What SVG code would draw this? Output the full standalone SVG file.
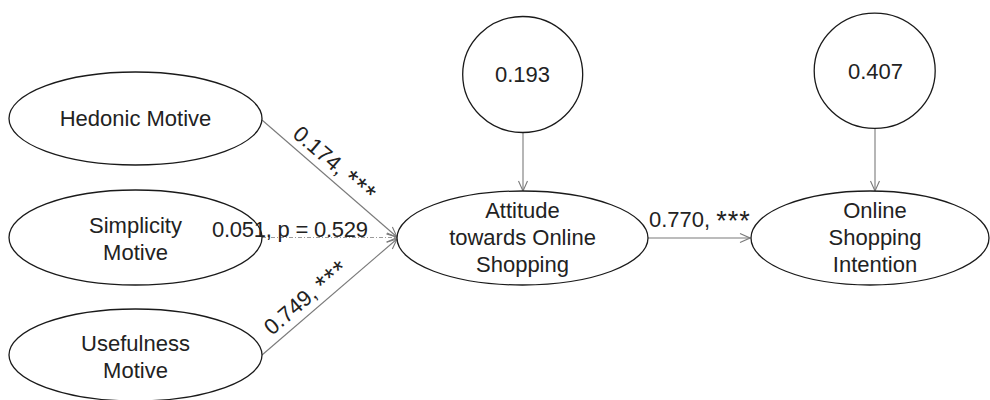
<svg xmlns="http://www.w3.org/2000/svg" width="990" height="400" viewBox="0 0 990 400">
  <style>
    .node { fill: #ffffff; stroke: #1a1a1a; stroke-width: 1.3; }
    .lbl { font-family: "Liberation Sans", Arial, sans-serif; font-size: 22px; fill: #222222; }
    .mid { text-anchor: middle; }
    .stars { font-size: 27px; letter-spacing: 1px; }
    .edge { fill: none; stroke: #7a7a7a; stroke-width: 1.1; }
    .dotted { stroke: #9a9a9a; stroke-dasharray: 4 2 1 2; }
  </style>
  <defs>
    <marker id="arrow" viewBox="0 0 12 12" refX="11" refY="6" markerWidth="12" markerHeight="12" markerUnits="userSpaceOnUse" orient="auto">
      <path d="M1,1.5 L11,6 L1,10.5" fill="none" stroke="#7a7a7a" stroke-width="1.1"/>
    </marker>
  </defs>

  <rect width="990" height="400" fill="#ffffff"/>

  <!-- connectors -->
  <g id="connectors">
    <line class="edge" x1="262" y1="120" x2="397" y2="237" marker-end="url(#arrow)"/>
    <line class="edge dotted" x1="262" y1="237.5" x2="397" y2="237.5" marker-end="url(#arrow)"/>
    <line class="edge" x1="262" y1="355" x2="397" y2="239" marker-end="url(#arrow)"/>
    <line class="edge" x1="648" y1="238" x2="750" y2="238" marker-end="url(#arrow)"/>
    <line class="edge" x1="523" y1="132.5" x2="523" y2="191" marker-end="url(#arrow)"/>
    <line class="edge" x1="875" y1="128.5" x2="875" y2="191" marker-end="url(#arrow)"/>
  </g>

  <!-- source constructs -->
  <g id="hedonic">
    <ellipse class="node" cx="135.5" cy="118.5" rx="126.5" ry="46.5"/>
    <text class="lbl mid" x="135.5" y="125.5">Hedonic Motive</text>
  </g>
  <g id="simplicity">
    <ellipse class="node" cx="135.5" cy="237.5" rx="126.5" ry="47.5"/>
    <text class="lbl mid" x="135.5" y="233">Simplicity</text>
    <text class="lbl mid" x="135.5" y="260">Motive</text>
  </g>
  <g id="usefulness">
    <ellipse class="node" cx="135.5" cy="355" rx="126.5" ry="46"/>
    <text class="lbl mid" x="135.5" y="351">Usefulness</text>
    <text class="lbl mid" x="135.5" y="378">Motive</text>
  </g>

  <!-- mediator and outcome -->
  <g id="attitude">
    <ellipse class="node" cx="522.5" cy="238" rx="125.5" ry="47"/>
    <text class="lbl mid" x="522.5" y="218">Attitude</text>
    <text class="lbl mid" x="522.5" y="245">towards Online</text>
    <text class="lbl mid" x="522.5" y="272">Shopping</text>
  </g>
  <g id="intention">
    <ellipse class="node" cx="870" cy="238" rx="119" ry="47"/>
    <text class="lbl mid" x="875" y="218">Online</text>
    <text class="lbl mid" x="875" y="245">Shopping</text>
    <text class="lbl mid" x="875" y="272">Intention</text>
  </g>

  <!-- error terms -->
  <g id="error-attitude">
    <ellipse class="node" cx="522.7" cy="74.5" rx="60" ry="58"/>
    <text class="lbl mid" x="522.5" y="81.5">0.193</text>
  </g>
  <g id="error-intention">
    <ellipse class="node" cx="874.7" cy="70.8" rx="60.5" ry="57.6"/>
    <text class="lbl mid" x="875.5" y="79">0.407</text>
  </g>

  <!-- path coefficients, drawn over the shapes -->
  <g id="connector-labels">
    <text class="lbl" transform="translate(291.5,136) rotate(40.7)">0.174, <tspan class="stars" dy="3">***</tspan></text>
    <text class="lbl" x="212" y="237" textLength="156">0.051, p = 0.529</text>
    <text class="lbl" transform="translate(272,336) rotate(-40.7)">0.749, <tspan class="stars" dy="3">***</tspan></text>
    <text class="lbl" x="649" y="227">0.770, <tspan class="stars" dy="3">***</tspan></text>
  </g>
</svg>
